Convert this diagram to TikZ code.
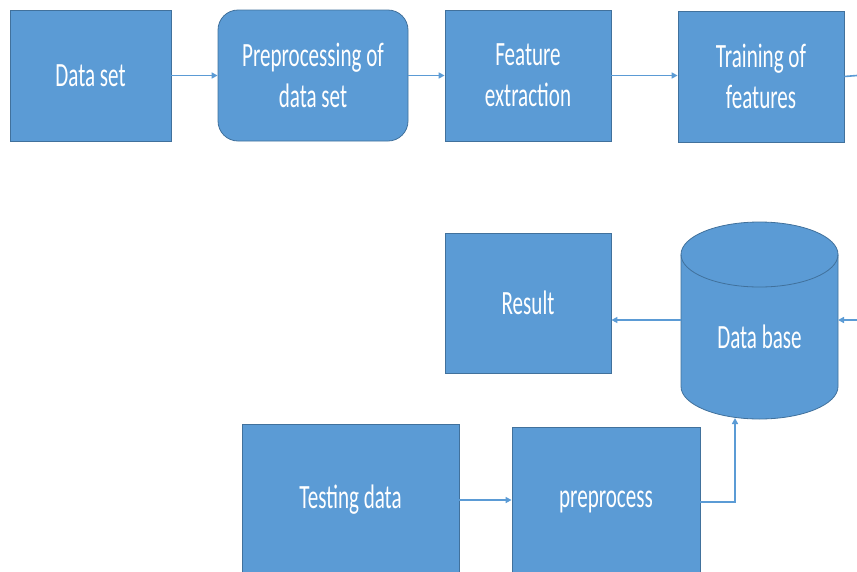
\documentclass[tikz,border=0pt]{standalone}
\usepackage{fontspec}
\setmainfont{Carlito}[FakeStretch=0.62]
\usetikzlibrary{arrows.meta}
\definecolor{boxfill}{HTML}{5B9BD5}
\definecolor{boxline}{HTML}{41719C}
\definecolor{arrowc}{HTML}{5B9BD5}
\tikzset{
  box/.style={draw=boxline, line width=0.8pt, fill=boxfill, text=white, align=center,
    inner sep=0pt, font=\fontsize{34}{41}\selectfont},
  conn/.style={draw=arrowc, line width=1.6pt, -{Triangle[length=6pt,width=6pt]}},
  plainline/.style={draw=arrowc, line width=1.6pt},
  label/.style={text=white, align=center, inner sep=0pt, font=\fontsize{34}{41}\selectfont},
}
\begin{document}
\begin{tikzpicture}[x=1pt,y=-1pt]
\useasboundingbox (0,0) rectangle (857,571);
% top row
\node[box, minimum width=161pt, minimum height=131pt] (ds) at (90.5,75.5) {Data set};
\node[box, rounded corners=20pt, minimum width=190pt, minimum height=131pt] (pre) at (313,75.5) {Preprocessing of\\data set};
\node[box, minimum width=166pt, minimum height=131pt] (fe) at (528,75.5) {Feature\\extraction};
\node[box, minimum width=166pt, minimum height=131pt] (tr) at (761,76.5) {Training of\\features};
% middle row
\node[box, minimum width=166pt, minimum height=140pt] (res) at (528,303) {Result};
% database cylinder
\fill[boxfill] (681,254.5) -- (681,386.5) arc[start angle=180, end angle=0, x radius=78.5, y radius=32.5] -- (838,254.5) -- cycle;
\fill[boxfill] (759.5,254.5) ellipse[x radius=78.5, y radius=32.5];
\draw[boxline, line width=0.8pt] (681,254.5) -- (681,386.5) arc[start angle=180, end angle=0, x radius=78.5, y radius=32.5] -- (838,254.5);
\draw[boxline, line width=0.8pt] (759.5,254.5) ellipse[x radius=78.5, y radius=32.5];
\node[inner sep=0pt, outer sep=0pt, minimum width=157pt, minimum height=198pt] (db) at (759.5,320) {};
\node[label] (dbt) at (759.5,337) {Data base};
% bottom row
\node[box, minimum width=217pt, minimum height=152pt] (td) at (350.5,500) {Testing data};
\node[box, minimum width=188pt, minimum height=150pt] (pp) at (606,502) {preprocess};
% edge coordinates
\coordinate (outTr) at (857,75.5);
\coordinate (inDb) at (857,320);
\coordinate (dbBottom) at (735,418);
% connectors
\draw[conn] (ds.east) -- (ds.east -| pre.west);
\draw[conn] (pre.east) -- (pre.east -| fe.west);
\draw[conn] (fe.east) -- (fe.east -| tr.west);
\draw[plainline] (tr.east) -- (outTr);
\draw[conn] (inDb) -- (db.east);
\draw[conn] (db.west) -- (db.west -| res.east);
\draw[conn] (td.east) -- (td.east -| pp.west);
\draw[conn] (pp.east) -| (dbBottom);
\end{tikzpicture}
\end{document}
